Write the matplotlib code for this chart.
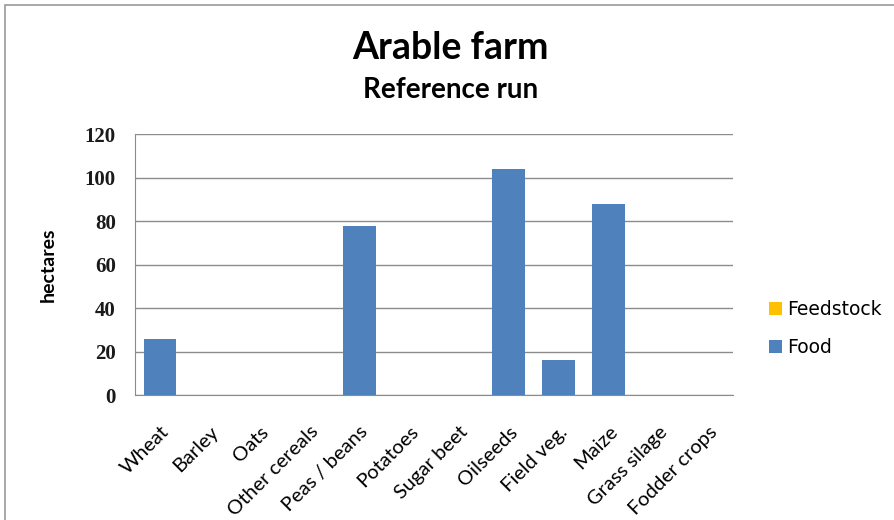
import numpy as np
import matplotlib.pyplot as plt
from matplotlib.patches import Rectangle

# Crop areas, reference run (hectares)
crops = ['Wheat', 'Barley', 'Oats', 'Other cereals', 'Peas / beans', 'Potatoes',
         'Sugar beet', 'Oilseeds', 'Field veg.', 'Maize', 'Grass silage', 'Fodder crops']
food = [26, 0, 0, 0, 78, 0, 0, 104, 16, 88, 0, 0]
feedstock = [0, 0, 0, 0, 0, 0, 0, 0, 0, 0, 0, 0]

fig = plt.figure(figsize=(8.95, 5.2), dpi=100)
ax = fig.add_axes([0.151, 0.240, 0.668, 0.502])

# outer chart frame
fig.patches.append(Rectangle((5 / 895, -0.05), 1.0, 1 - 5 / 520 + 0.05, transform=fig.transFigure,
                             fill=False, edgecolor='#9a9a9a', linewidth=1.2))

x = np.arange(len(crops))
ax.bar(x, food, width=0.66, color='#4F81BD', label='Food', zorder=3)
ax.bar(x, feedstock, width=0.66, bottom=food, color='#FFC000', label='Feedstock', zorder=3)

ax.set_xlim(-0.5, len(crops) - 0.5)
ax.set_ylim(0, 120)
ax.set_yticks(range(0, 121, 20))
ax.yaxis.grid(True, color='#8c8c8c', linewidth=1.0, zorder=0)
for s in ['top', 'right']:
    ax.spines[s].set_visible(False)
for s in ['left', 'bottom']:
    ax.spines[s].set_color('#8c8c8c')
ax.tick_params(axis='both', length=0)
ax.tick_params(axis='y', pad=14)
ax.tick_params(axis='x', pad=20)

ax.set_xticks(x)
ax.set_xticklabels(crops, rotation=45, ha='right', rotation_mode='anchor',
                   fontsize=14.5, family='Lato')
for lbl in ax.get_yticklabels():
    lbl.set_fontfamily('Liberation Serif')
    lbl.set_fontsize(15)
    lbl.set_fontweight('bold')
    lbl.set_color('#1a1a1a')
ax.set_ylabel('hectares', fontsize=14, fontweight='bold', family='Lato', labelpad=20)

fig.text(0.503, 0.908, 'Arable farm', ha='center', va='center', fontsize=27,
         fontweight='bold', family='Lato')
fig.text(0.503, 0.826, 'Reference run', ha='center', va='center', fontsize=20,
         fontweight='bold', family='Lato')

handles, labels = ax.get_legend_handles_labels()
fig.legend(handles[::-1], labels[::-1], loc='center left', bbox_to_anchor=(0.84, 0.368),
           frameon=False, fontsize=13.5, handlelength=0.7, handleheight=0.7,
           handletextpad=0.3, labelspacing=1.0)

fig.savefig('out.png', dpi=100)
